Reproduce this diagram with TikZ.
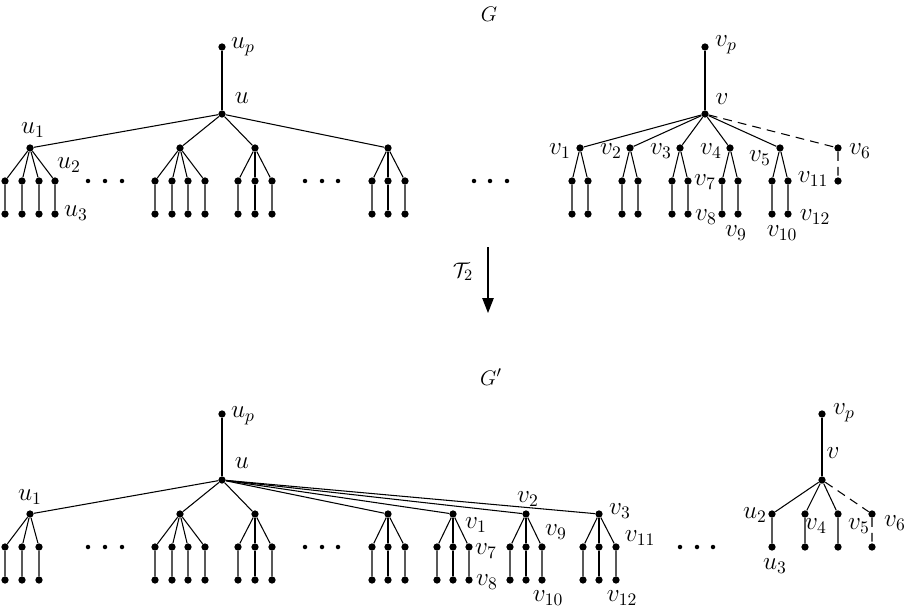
\documentclass[tikz,border=0pt]{standalone}
\usepackage{tikz}
\usetikzlibrary{arrows.meta}

\begin{document}
\begin{tikzpicture}[
    x=0.02cm, y=-0.02cm,
    vtx/.style={circle, fill, inner sep=0pt, minimum size=0.145cm},
    ell/.style={circle, fill, inner sep=0pt, minimum size=0.09cm},
    lbl/.style={inner sep=0pt, font=\fontsize{14.4}{17}\selectfont},
    ttl/.style={inner sep=0pt, font=\fontsize{12.5}{15}\selectfont},
    edge/.style={line width=0.6pt},
    dsh/.style={line width=0.6pt, dash pattern=on 5pt off 3.5pt},
    arr/.style={-{Triangle[length=8.5pt, width=6.5pt]}, line width=0.6pt},
]
\useasboundingbox (0,0) rectangle (906,608);

% Graph G
\node[ttl] (tG) at (489,14) {$G$};

\node[vtx] (up) at (222,47) {};
\node[vtx] (u) at (222,114) {};
\draw[edge] (up) -- (u);
\foreach \n/\x in {a/30, b/180, c/255, d/388} {
    \node[vtx] (u\n) at (\x,148) {};
    \draw[edge] (u) -- (u\n);
}
\foreach \n/\xs in {a/{5,22,39,55}, b/{155,172,188,205}, c/{238,255,272}, d/{372,388,405}} {
    \foreach \x [count=\i] in \xs {
        \node[vtx] (u\n\i) at (\x,181) {};
        \node[vtx] (l\n\i) at (\x,214) {};
        \draw[edge] (u\n) -- (u\n\i) -- (l\n\i);
    }
}

\node[vtx] (vp) at (705,47) {};
\node[vtx] (v) at (705,114) {};
\draw[edge] (vp) -- (v);
\foreach \i/\x in {1/580, 2/630, 3/680, 4/730, 5/780} {
    \node[vtx] (v\i) at (\x,148) {};
    \draw[edge] (v) -- (v\i);
    \foreach \s [count=\j] in {-8,8} {
        \node[vtx] (v\i\j) at ({\x+\s},181) {};
        \node[vtx] (w\i\j) at ({\x+\s},214) {};
        \draw[edge] (v\i) -- (v\i\j) -- (w\i\j);
    }
}
\node[vtx] (v6) at (838,148) {};
\node[vtx] (v61) at (838,181) {};
\draw[dsh] (v) -- (v6) -- (v61);

% dots
\foreach \g/\xs in {a/{88,105,122}, b/{305,322,338}, c/{474,490,507}} {
    \foreach \x [count=\i] in \xs
        \node[ell] (d\g\i) at (\x,181) {};
}

% labels of G
\node[lbl] (lup) at (243,47) {$u_p$};
\node[lbl] (lu) at (242,98) {$u$};
\node[lbl] (lu1) at (33,130) {$u_1$};
\node[lbl] (lu2) at (69,165) {$u_2$};
\node[lbl] (lu3) at (76,213) {$u_3$};
\node[lbl] (lvp) at (726,45) {$v_p$};
\node[lbl] (lv) at (722,99) {$v$};
\foreach \i/\x/\y in {1/560/151, 2/611/151, 3/661/151, 4/711/151, 5/760/158, 6/860/151,
                      7/705/182, 8/706/217, 9/736/233, 10/782/233, 11/813/179, 12/815/217}
    \node[lbl] (lv\i) at (\x,\y) {$v_{\i}$};

% transformation
\coordinate (ta) at (488,247);
\coordinate (tb) at (488,313);
\draw[arr] (ta) -- (tb);
\node[ttl] (tT) at (463,272) {$\mathcal{T}_2$};

% Graph G'
\node[ttl] (tG2) at (491,377) {$G'$};

\node[vtx] (bup) at (222,414) {};
\node[vtx] (bu) at (222,480) {};
\draw[edge] (bup) -- (bu);
\foreach \n/\x in {a/30, b/180, c/255, d/388, e/453, f/526, g/599} {
    \node[vtx] (bu\n) at (\x,514) {};
    \draw[edge] (bu) -- (bu\n);
}
\foreach \n/\xs in {a/{5,22,39}, b/{155,172,188,205}, c/{238,255,272}, d/{372,388,405},
                    e/{437,453,469}, f/{510,526,542}, g/{583,599,616}} {
    \foreach \x [count=\i] in \xs {
        \node[vtx] (bu\n\i) at (\x,547) {};
        \node[vtx] (bl\n\i) at (\x,580) {};
        \draw[edge] (bu\n) -- (bu\n\i) -- (bl\n\i);
    }
}

\node[vtx] (bvp) at (822,414) {};
\node[vtx] (bv) at (822,480) {};
\draw[edge] (bvp) -- (bv);
\foreach \n/\x in {a/772, b/805, c/838} {
    \node[vtx] (bv\n) at (\x,514) {};
    \node[vtx] (bw\n) at (\x,547) {};
    \draw[edge] (bv) -- (bv\n) -- (bw\n);
}
\node[vtx] (bvd) at (872,514) {};
\node[vtx] (bwd) at (872,547) {};
\draw[dsh] (bv) -- (bvd) -- (bwd);

% dots
\foreach \g/\xs in {a/{88,105,122}, b/{305,322,338}, c/{680,697,713}} {
    \foreach \x [count=\i] in \xs
        \node[ell] (bd\g\i) at (\x,547) {};
}

% labels of G'
\node[lbl] (blup) at (243,416) {$u_p$};
\node[lbl] (blu) at (242,463) {$u$};
\node[lbl] (blu1) at (30,497) {$u_1$};
\node[lbl] (blu2) at (755,515) {$u_2$};
\node[lbl] (blu3) at (775,566) {$u_3$};
\node[lbl] (blvp) at (844,413) {$v_p$};
\node[lbl] (blv) at (833,453) {$v$};
\foreach \i/\x/\y in {1/476/525, 7/486/551, 8/487/582, 2/528/499, 9/556/532, 10/548/598,
                      3/620/511, 11/640/538, 12/622/598, 4/816/526, 5/859/526, 6/895/523}
    \node[lbl] (blv\i) at (\x,\y) {$v_{\i}$};

\end{tikzpicture}
\end{document}
